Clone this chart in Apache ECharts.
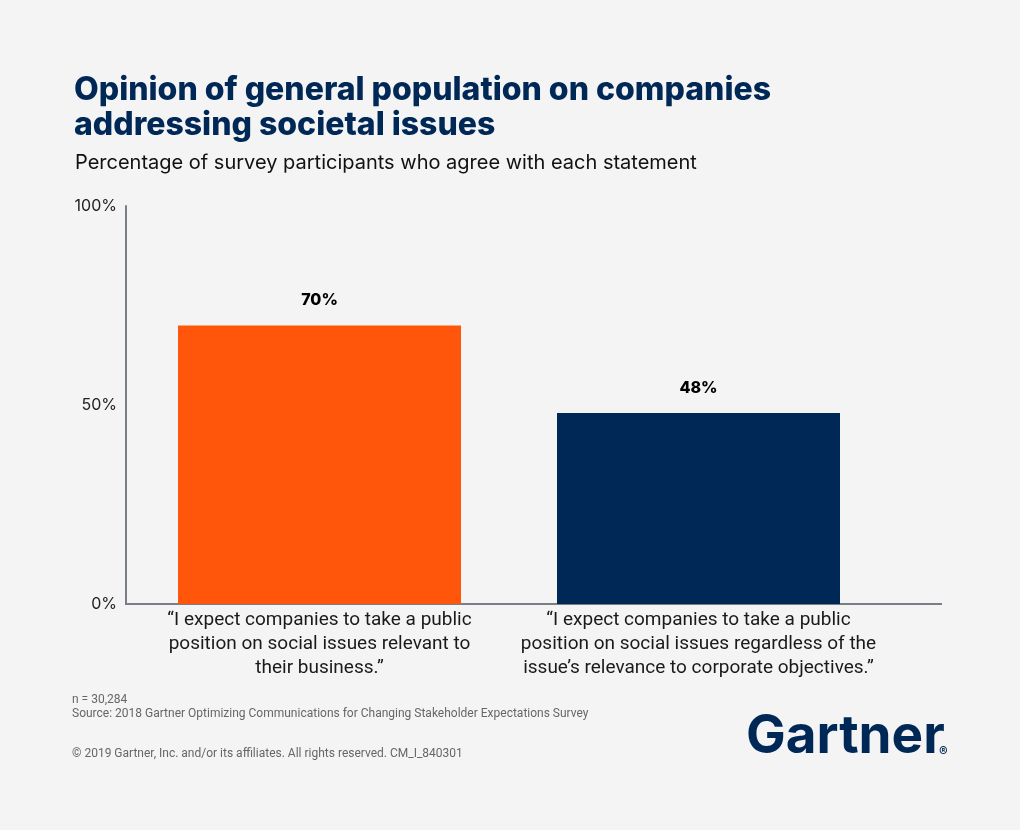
<!DOCTYPE html>
<html>
<head>
<meta charset="utf-8">
<script src="https://cdn.jsdelivr.net/npm/echarts@6/dist/echarts.min.js"></script>
<style>
html,body{margin:0;padding:0;background:#f4f4f4;}
#chart{width:1020px;height:830px;}
</style>
</head>
<body>
<div id="chart"></div>
<script>
const categories = [
  '“I expect companies to take a public\nposition on social issues relevant to\ntheir business.”',
  '“I expect companies to take a public\nposition on social issues regardless of the\nissue’s relevance to corporate objectives.”'
];
const values = [70, 48];
const barColors = ['#ff560b', '#002856'];
const yTicks = { min: 0, max: 100, interval: 50 };

const chart = echarts.init(document.getElementById('chart'));
chart.setOption({
  backgroundColor: '#f4f4f4',
  animation: false,
  title: [
    {
      text: 'Opinion of general population on companies\naddressing societal issues',
      left: 69, top: 68,
      textStyle: { fontFamily: 'Inter', fontWeight: 800, fontSize: 32, lineHeight: 35, color: '#002856' }
    },
    {
      text: 'Percentage of survey participants who agree with each statement',
      left: 70, top: 148,
      textStyle: { fontFamily: 'Inter', fontWeight: 400, fontSize: 20, color: '#111' }
    }
  ],
  grid: { left: 130, right: 132, top: 206, bottom: 226 },
  xAxis: {
    type: 'category',
    data: categories,
    axisLine: { show: false },
    axisTick: { show: false },
    axisLabel: {
      interval: 0, margin: 4,
      fontFamily: 'Roboto',
      fontSize: 19, lineHeight: 24, color: '#1a1a1a', align: 'center'
    }
  },
  yAxis: {
    type: 'value',
    min: yTicks.min, max: yTicks.max, interval: yTicks.interval,
    offset: 4,
    splitLine: { show: false },
    axisTick: { show: false },
    axisLine: { show: true, lineStyle: { color: '#7a7f85', width: 2 } },
    axisLabel: { formatter: '{value}%', fontFamily: 'Inter', fontSize: 16, color: '#222', margin: 9 }
  },
  series: [{
    type: 'bar',
    barWidth: 283,
    data: values.map((v, i) => ({ value: v, itemStyle: { color: barColors[i] } })),
    label: {
      show: true, position: 'top', distance: 17,
      formatter: '{c}%',
      fontFamily: 'Inter', fontWeight: 800, fontSize: 16, color: '#000'
    }
  }],
  graphic: [
    { type: 'line', shape: { x1: 125, y1: 604, x2: 942, y2: 604 }, style: { stroke: '#7a7f85', lineWidth: 2 } },
    { type: 'text', left: 72, top: 694, style: { text: 'n = 30,284', font: '12px Roboto', fill: '#666' } },
    { type: 'text', left: 72, top: 708, style: { text: 'Source: 2018 Gartner Optimizing Communications for Changing Stakeholder Expectations Survey', font: '12px Roboto', fill: '#666' } },
    { type: 'text', left: 72, top: 748, style: { text: '© 2019 Gartner, Inc. and/or its affiliates. All rights reserved. CM_I_840301', font: '12px Roboto', fill: '#666' } },
    { type: 'text', left: 746, top: 711, style: { text: 'Gartner', font: 'bold 53px Inter', fill: '#002856' } },
    { type: 'text', left: 939, top: 746, style: { text: '®', font: 'bold 13px Inter', fill: '#002856' } }
  ]
});
</script>
</body>
</html>
